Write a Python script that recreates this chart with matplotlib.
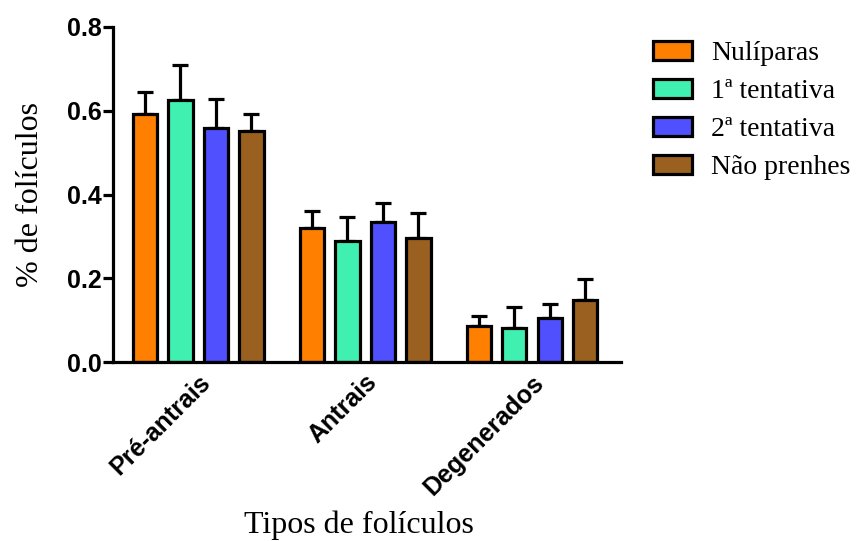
import numpy as np
import matplotlib.pyplot as plt
from matplotlib.patches import Patch
from matplotlib.transforms import ScaledTranslation

categories = ['Pré-antrais', 'Antrais', 'Degenerados']
groups = ['Nulíparas', '1ª tentativa', '2ª tentativa', 'Não prenhes']

# mean and upper error (SEM) per group, one value per category
nuliparas = [0.592, 0.320, 0.086]
nuliparas_err = [0.053, 0.041, 0.024]
tentativa1 = [0.626, 0.289, 0.081]
tentativa1_err = [0.083, 0.057, 0.050]
tentativa2 = [0.559, 0.334, 0.105]
tentativa2_err = [0.069, 0.046, 0.034]
nao_prenhes = [0.552, 0.296, 0.148]
nao_prenhes_err = [0.040, 0.060, 0.050]

colors = ['#FF7F00', '#40F0B0', '#5050FF', '#9A6020']

fig = plt.figure(figsize=(8.57, 5.41), dpi=100)
ax = fig.add_axes([113 / 857, 179 / 541, (621 - 113) / 857, 335 / 541])

x = np.arange(len(categories))
step = 0.2126
width = 0.146
series = [(nuliparas, nuliparas_err), (tentativa1, tentativa1_err),
          (tentativa2, tentativa2_err), (nao_prenhes, nao_prenhes_err)]

for i, (vals, errs) in enumerate(series):
    pos = x + (i - 1.5) * step
    ax.bar(pos, vals, width, color=colors[i], edgecolor='black', linewidth=2.3, zorder=2)
    ax.errorbar(pos, vals, yerr=[np.zeros(len(vals)), errs], fmt='none',
                ecolor='black', elinewidth=2.3, capsize=5.5, capthick=2.3, zorder=1)

ax.set_ylim(0, 0.8)
ax.set_xlim(-0.51, 2.533)
ax.set_yticks([0.0, 0.2, 0.4, 0.6, 0.8])
ax.set_yticklabels(['0.0', '0.2', '0.4', '0.6', '0.8'])
ax.set_xticks(x)
ax.set_xticklabels(categories, rotation=45, ha='right', rotation_mode='anchor')

shift = ScaledTranslation(7 / 100, 0, fig.dpi_scale_trans)
for lab in ax.get_xticklabels():
    lab.set_transform(lab.get_transform() + shift)
for lab in ax.get_xticklabels() + ax.get_yticklabels():
    lab.set_fontfamily('Liberation Sans')
    lab.set_fontweight('bold')
    lab.set_fontsize(18)

ax.spines['top'].set_visible(False)
ax.spines['right'].set_visible(False)
ax.spines['left'].set_linewidth(2.3)
ax.spines['bottom'].set_linewidth(2.3)
ax.tick_params(axis='y', width=2.3, length=7, pad=1)
ax.tick_params(axis='x', length=0, pad=6)

ax.set_ylabel('% de folículos', fontfamily='Liberation Serif', fontsize=23, labelpad=16)
ax.set_xlabel('Tipos de folículos', fontfamily='Liberation Serif', fontsize=23, labelpad=8)
ax.xaxis.label.set_x(0.485)

handles = [Patch(facecolor=c, edgecolor='black', linewidth=2.3) for c in colors]
fig.legend(handles, groups, loc='upper left', bbox_to_anchor=(628 / 857, 1 - 16 / 541),
           frameon=False, prop={'family': 'Liberation Serif', 'size': 20},
           handlelength=1.4, handleheight=0.65, handletextpad=0.68, labelspacing=0.47)

fig.savefig('out.png', dpi=100)
